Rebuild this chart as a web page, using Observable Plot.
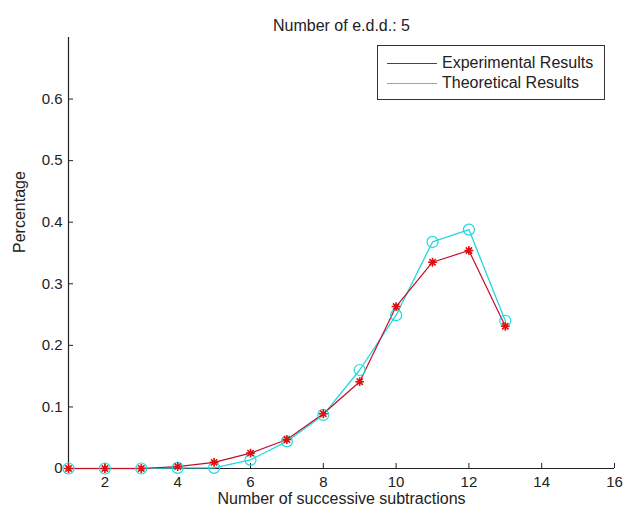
<!DOCTYPE html>
<html>
<head>
<meta charset="utf-8">
<script src="https://cdn.jsdelivr.net/npm/d3@7"></script>
<script src="https://cdn.jsdelivr.net/npm/@observablehq/plot@0.6"></script>
<style>
  html, body { margin: 0; padding: 0; background: #fff; }
  #wrap { position: relative; width: 625px; height: 514px; font-family: "Liberation Sans", Arial, sans-serif; }
  #legend { position: absolute; left: 377px; top: 45px; width: 228px; height: 55px; border: 1px solid #333; background: #fff; box-sizing: border-box; }
  .lg-row { position: absolute; left: 9px; height: 20px; display: flex; align-items: center; font-size: 16px; color: #222; }
  .lg-line { width: 50px; height: 1px; margin-right: 5px; }
</style>
</head>
<body>
<div id="wrap"></div>
<script>
const titleText = "Number of e.d.d.: 5";
const xLabel = "Number of successive subtractions";
const yLabel = "Percentage";
const seriesNames = ["Experimental Results", "Theoretical Results"];
const subtractions = [1, 2, 3, 4, 5, 6, 7, 8, 9, 10, 11, 12, 13];
const experimental = [0, 0, 0, 0.003, 0.010, 0.025, 0.047, 0.089, 0.141, 0.263, 0.335, 0.354, 0.231];
const theoretical  = [0, 0, 0, 0.001, 0.001, 0.014, 0.044, 0.087, 0.160, 0.249, 0.368, 0.388, 0.240];
const xTicks = [2, 4, 6, 8, 10, 12, 14, 16];
const yTicks = [0, 0.1, 0.2, 0.3, 0.4, 0.5, 0.6];

const expData = subtractions.map((x, i) => ({x, y: experimental[i]}));
const thData = subtractions.map((x, i) => ({x, y: theoretical[i]}));

const redLine = "#c01028";
const redMark = "#e01010";
const cyan = "#20d8e0";

// MATLAB-style 8-point asterisk
const star = {
  draw(ctx, size) {
    const r = Math.sqrt(size) / 2;
    const d = r * Math.SQRT1_2;
    ctx.moveTo(-r, 0); ctx.lineTo(r, 0);
    ctx.moveTo(0, -r); ctx.lineTo(0, r);
    ctx.moveTo(-d, -d); ctx.lineTo(d, d);
    ctx.moveTo(-d, d); ctx.lineTo(d, -d);
  }
};

const chart = Plot.plot({
  width: 625,
  height: 514,
  marginLeft: 68,
  marginRight: 11,
  marginTop: 37,
  marginBottom: 46,
  style: { fontFamily: "Liberation Sans, Arial, sans-serif", fontSize: "15px", color: "#222", background: "#fff" },
  x: { domain: [1, 16] },
  y: { domain: [0, 0.7] },
  marks: [
    Plot.axisX(xTicks, { tickSize: -5, tickPadding: 13, fontSize: 15, label: null, stroke: "#222" }),
    Plot.axisY(yTicks, { tickSize: -5, tickPadding: 11, fontSize: 15, label: null, stroke: "#222", tickFormat: d => String(d) }),
    Plot.ruleY([0], { stroke: "#222", strokeWidth: 1.2 }),
    Plot.ruleX([1], { stroke: "#222", strokeWidth: 1.2 }),
    Plot.line(thData, { x: "x", y: "y", stroke: cyan, strokeWidth: 1.3 }),
    Plot.line(expData, { x: "x", y: "y", stroke: redLine, strokeWidth: 1.2 }),
    Plot.dot(thData, { x: "x", y: "y", stroke: cyan, r: 5.5, strokeWidth: 1.2 }),
    Plot.dot(expData, { x: "x", y: "y", stroke: redMark, symbol: star, r: 5, strokeWidth: 1.6 }),
    Plot.text([titleText], { frameAnchor: "top", dy: -18, fontSize: 16, fill: "#222" }),
    Plot.text([xLabel], { frameAnchor: "bottom", dy: 35, fontSize: 16, fill: "#222" }),
    Plot.text([yLabel], { frameAnchor: "left", dx: -49, rotate: -90, fontSize: 16, fill: "#222" })
  ]
});

const wrap = document.getElementById("wrap");
wrap.appendChild(chart);

const legend = document.createElement("div");
legend.id = "legend";
const colors = [redLine, cyan];
seriesNames.forEach((name, i) => {
  const row = document.createElement("div");
  row.className = "lg-row";
  row.style.top = (7 + i * 20) + "px";
  const ln = document.createElement("span");
  ln.className = "lg-line";
  ln.style.background = colors[i];
  const tx = document.createElement("span");
  tx.textContent = name;
  row.appendChild(ln);
  row.appendChild(tx);
  legend.appendChild(row);
});
wrap.appendChild(legend);
</script>
</body>
</html>
